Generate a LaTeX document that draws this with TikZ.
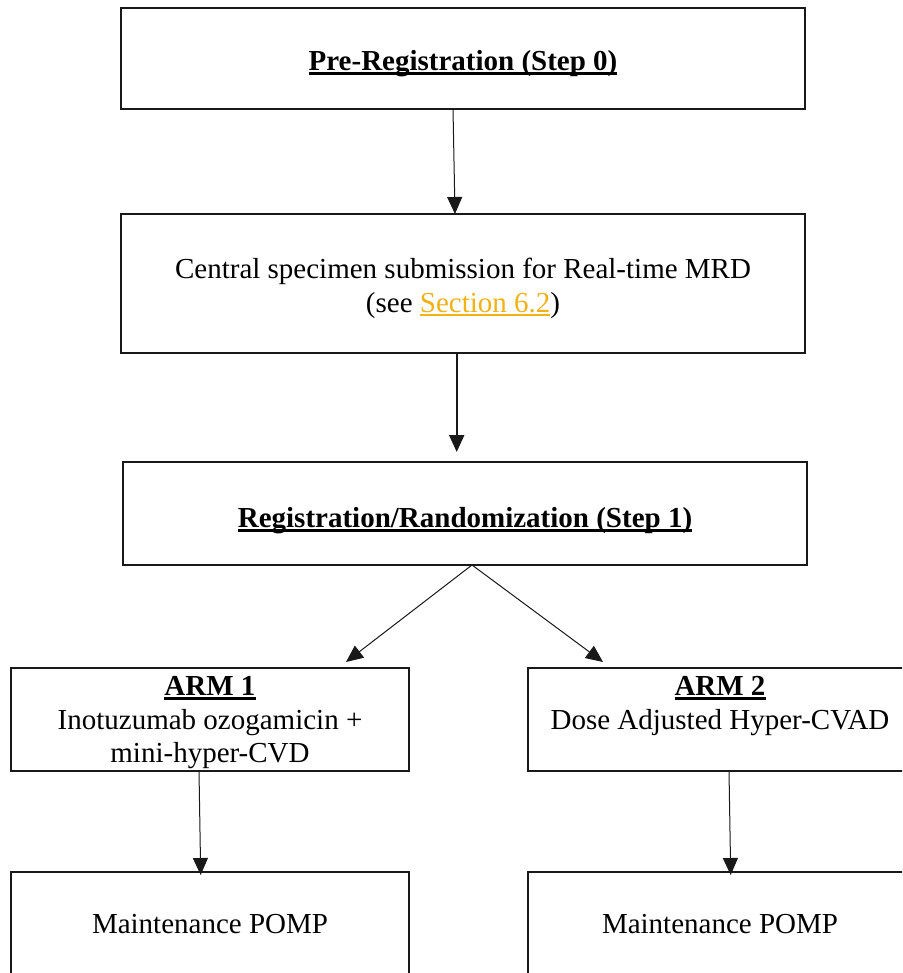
\documentclass[tikz,border=0pt]{standalone}
\usepackage{fontspec}
\setmainfont{Liberation Serif}
\usetikzlibrary{arrows.meta,calc}
\definecolor{linkc}{RGB}{240,178,20}
\newsavebox\ulbox
\newcommand\hd[1]{\sbox\ulbox{\textbf{#1}}\rlap{\rule[-2.2pt]{\wd\ulbox}{1.4pt}}\usebox\ulbox}
\newcommand\lnk[1]{\textcolor{linkc}{\sbox\ulbox{#1}\rlap{\rule[-1.6pt]{\wd\ulbox}{0.6pt}}\usebox\ulbox}}
\begin{document}
\begin{tikzpicture}[x=0.5pt,y=-0.5pt,
  box/.style={draw=black!90, line width=1pt, inner sep=0pt, outer sep=0pt},
  txt/.style={inner sep=0pt, align=center, font=\fontsize{14.5}{16.8}\selectfont},
  arr/.style={-{Triangle[width=7.5pt,length=8.5pt]}, line width=0.5pt, draw=black!90},
  arrthick/.style={arr, line width=1pt}]
\useasboundingbox (0,0) rectangle (902,973);
\clip (0,0) rectangle (902,973);
\fill[white] (0,0) rectangle (902,973);

\node[box, minimum width=342pt, minimum height=50.5pt] (A) at (463,58.5) {};
\node[box, minimum width=342pt, minimum height=69.5pt] (B) at (463,283.5) {};
\node[box, minimum width=342pt, minimum height=51.5pt] (C) at (465,513.5) {};
\node[box, minimum width=199pt, minimum height=51.5pt] (ARMa) at (210,719.5) {};
\node[box, minimum width=192pt, minimum height=51.5pt] (ARMb) at (720,719.5) {};
\node[box, minimum width=199pt, minimum height=52pt] (Ma) at (210,924) {};
\node[box, minimum width=192pt, minimum height=52pt] (Mb) at (720,924) {};

\node[txt] (At) at ($(A)+(0,5)$) {\hd{Pre-Registration (Step 0)}};
\node[txt] (Bt) at ($(B)+(0,5)$) {Central specimen submission for Real-time MRD\\(see \lnk{Section 6.2})};
\node[txt] (Ct) at ($(C)+(0,7)$) {\hd{Registration/Randomization (Step 1)}};
\node[txt] (ARMat) at ($(ARMa)+(0,5)$) {\hd{ARM 1}\\Inotuzumab ozogamicin +\\mini-hyper-CVD\strut};
\node[txt] (ARMbt) at ($(ARMb)+(0,5)$) {\hd{ARM 2}\\Dose Adjusted Hyper-CVAD\\\strut};
\node[txt] (Mat) at (Ma) {Maintenance POMP};
\node[txt] (Mbt) at (Mb) {Maintenance POMP};

\draw[arr] ($(A.south)+(-10,0)$) -- ($(B.north)+(-8,0)$);
\draw[arrthick] ($(B.south)+(-6.3,0)$) -- ($(C.north)+(-8.3,-10)$);
\coordinate (split) at ($(C.south)+(7,0)$);
\draw[arr] (split) -- ($(ARMa.north)+(136,-6)$);
\draw[arr] (split) -- ($(ARMb.north)+(-117,-6)$);
\draw[arr] ($(ARMa.south)+(-11,0)$) -- ($(Ma.north)+(-9.3,3)$);
\draw[arr] ($(ARMb.south)+(9,0)$) -- ($(Mb.north)+(10.7,3)$);
\end{tikzpicture}
\end{document}
